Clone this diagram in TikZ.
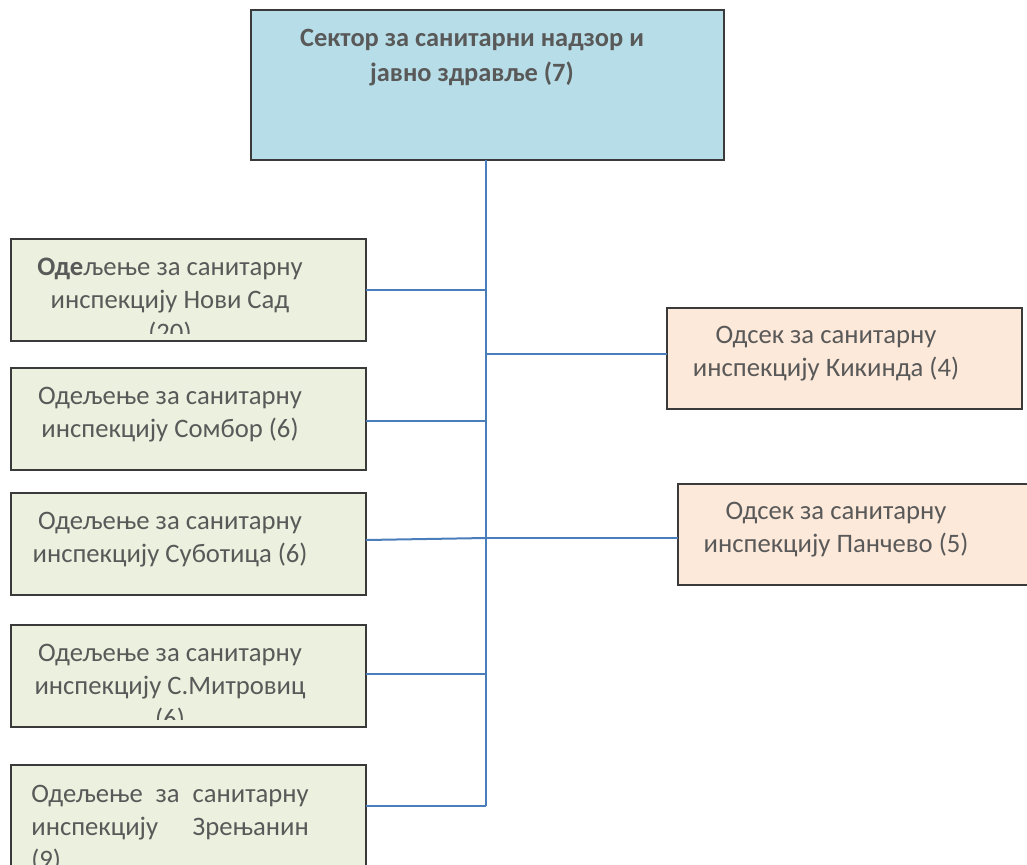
\documentclass[tikz,border=0pt]{standalone}
\usepackage{fontspec}
\setmainfont{Carlito}
\definecolor{txt}{HTML}{595959}
\definecolor{lineblue}{HTML}{4A7EBB}
\definecolor{topfill}{HTML}{B7DEE8}
\definecolor{greenfill}{HTML}{EBF1DE}
\definecolor{peachfill}{HTML}{FDE9D9}
\definecolor{border}{HTML}{3A3A3A}
\tikzset{
  box/.style={draw=border, line width=1.1pt, inner sep=0pt, outer sep=0pt},
  topbox/.style={box, fill=topfill, minimum width=354.75pt, minimum height=112.5pt},
  leftbox/.style={box, fill=greenfill, minimum width=266.25pt, minimum height=76.5pt},
  rightbox/.style={box, fill=peachfill, minimum width=266.25pt, minimum height=75.75pt},
  lbl/.style={text=txt, inner sep=0pt, align=center, anchor=north, font=\fontsize{20pt}{24.8pt}\selectfont},
  conn/.style={draw=lineblue, line width=1.5pt},
}
\begin{document}
\begin{tikzpicture}[x=0.75pt, y=-0.75pt]
\useasboundingbox (0,0) rectangle (1027,864);
\clip (0,0) rectangle (1027,864);
% boxes
\node[topbox] (top) at (487.5,85) {};
\node[leftbox] (l1) at (188.5,290) {};
\node[leftbox] (l2) at (188.5,419) {};
\node[leftbox] (l3) at (188.5,544) {};
\node[leftbox] (l4) at (188.5,676) {};
\node[leftbox] (l5) at (188.5,816) {};
\node[rightbox] (r1) at (844.5,358.5) {};
\node[rightbox] (r2) at (855.5,534.5) {};
% texts
\node[lbl, font=\bfseries\fontsize{19.8pt}{26.3pt}\selectfont] (ttop) at (472,29) {Сектор за санитарни надзор и\\јавно здравље (7)};
\begin{scope}
\clip ([xshift=2pt,yshift=6pt]l1.south west) rectangle (l1.north east);
\node[lbl] (t1) at (170,258) {\textbf{Оде}љење за санитарну\\инспекцију Нови Сад\\(20)};
\end{scope}
\node[lbl] (t2) at (170,387) {Одељење за санитарну\\инспекцију Сомбор (6)};
\node[lbl] (t3) at (170,512) {Одељење за санитарну\\инспекцију Суботица (6)};
\begin{scope}
\clip ([xshift=2pt,yshift=6pt]l4.south west) rectangle (l4.north east);
\node[lbl] (t4) at (170,644) {Одељење за санитарну\\инспекцију С.Митровиц\\(6)};
\end{scope}
\node[lbl, align=left] (t5) at (170,785) {\hbox to 208pt{Одељење\hfill за\hfill санитарну}\\\hbox to 208pt{инспекцију\hfill Зрењанин}\\(9)};
\node[lbl] (t6) at (826,326) {Одсек за санитарну\\инспекцију Кикинда (4)};
\node[lbl] (t7) at (836,502) {Одсек за санитарну\\инспекцију Панчево (5)};
% connectors
\coordinate (bend) at (486,806);
\draw[conn] (top.south -| bend) -- (bend);
\draw[conn] (l1.east |- 0,290) -- (486,290);
\draw[conn] (l2.east |- 0,421) -- (486,421);
\draw[conn] (l3.east |- 0,540) -- (486,538);
\draw[conn] (l4.east |- 0,674) -- (486,674);
\draw[conn] (l5.east |- bend) -- (bend);
\draw[conn] (486,354) -- (r1.west |- 0,354);
\draw[conn] (486,538) -- (r2.west |- 0,538);
\end{tikzpicture}
\end{document}
